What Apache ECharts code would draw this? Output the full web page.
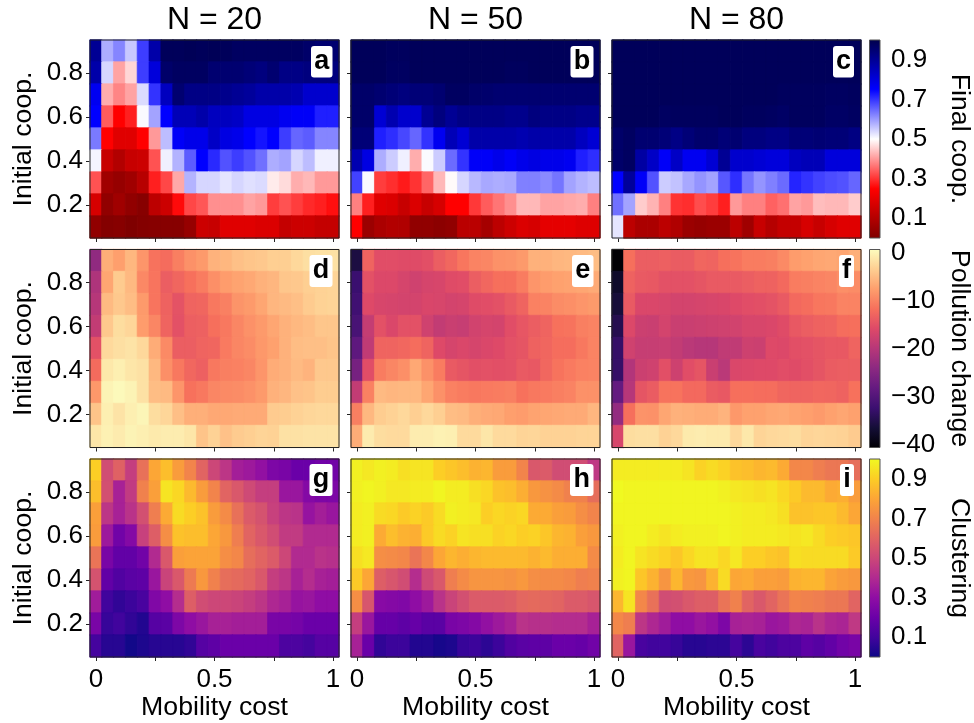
<!DOCTYPE html>
<html><head><meta charset="utf-8">
<style>html,body{margin:0;padding:0;background:#fff}#c{width:974px;height:723px}</style>
<script src="https://cdn.jsdelivr.net/npm/echarts@6/dist/echarts.min.js"></script>
</head><body><div id="c"></div>
<script>
const costs=['0','0.05','0.1','0.15','0.2','0.25','0.3','0.35','0.4','0.45','0.5','0.55','0.6','0.65','0.7','0.75','0.8','0.85','0.9','0.95','1'];
const initials=['0.1','0.2','0.3','0.4','0.5','0.6','0.7','0.8','0.9'];
const costLabels=['0','0.5','1'];
const initialLabels=['0.2','0.4','0.6','0.8'];
const titles=['N = 20','N = 50','N = 80'];
const letters=['a','b','c','d','e','f','g','h','i'];
const barNames=['Final coop.','Pollution change','Clustering'];
const barTicks=[[0.1,0.3,0.5,0.7,0.9],[-40,-30,-20,-10,0],[0.1,0.3,0.5,0.7,0.9]];
const barRanges=[[0,1],[-40.6,0.7],[0,1]];
const seismicR=['#7f0000','#ff0000','#ffffff','#0000ff','#00004c'];
const magma=['#000004','#140e36','#3b0f70','#641a80','#8c2981','#b73779','#de4968','#f7705c','#fe9f6d','#fecf92','#fcfdbf'];
const plasma=['#0d0887','#41049d','#6a00a8','#8f0da4','#b12a90','#cc4778','#e16462','#f2844b','#fca636','#fcce25','#f0f921'];

// rows run top (0.9) to bottom (0.1)
const panelA=[
[.90,.58,.62,.555,.69,.87,.98,.98,.985,.98,.985,.98,.97,.97,.97,.97,.97,.97,.96,.95,.95],
[.87,.54,.41,.46,.69,.80,.96,.97,.97,.97,.95,.95,.95,.94,.93,.95,.92,.92,.93,.93,.93],
[.77,.42,.38,.41,.535,.70,.84,.95,.92,.92,.92,.91,.90,.89,.87,.87,.87,.86,.82,.82,.82],
[.75,.34,.25,.28,.505,.59,.75,.85,.85,.87,.84,.84,.83,.79,.79,.79,.77,.76,.76,.72,.72],
[.63,.25,.19,.19,.25,.40,.565,.76,.78,.78,.83,.79,.78,.75,.73,.75,.69,.65,.66,.62,.62],
[.51,.14,.10,.14,.15,.33,.515,.575,.66,.75,.71,.67,.69,.67,.64,.58,.59,.54,.565,.515,.515],
[.33,.065,.045,.065,.11,.28,.32,.415,.575,.54,.54,.525,.54,.53,.535,.48,.465,.42,.43,.40,.40],
[.17,.035,.065,.035,.015,.12,.15,.26,.32,.335,.39,.39,.39,.41,.40,.31,.33,.31,.29,.28,.265],
[.035,.01,.015,.0,.01,.015,.015,.015,.045,.15,.14,.19,.19,.19,.18,.18,.135,.15,.15,.135,.135]];
const panelB=[
[.98,.98,.98,.975,.975,.98,.98,.98,.98,.98,.98,.98,.98,.98,.98,.98,.98,.98,.98,.98,.98],
[.98,.98,.98,.97,.97,.98,.98,.98,.98,.98,.98,.98,.98,.975,.975,.98,.98,.98,.98,.98,.98],
[.96,.96,.95,.94,.93,.94,.94,.95,.97,.97,.96,.955,.95,.95,.95,.95,.95,.95,.95,.95,.95],
[.96,.96,.81,.86,.82,.82,.90,.93,.90,.92,.92,.92,.92,.91,.91,.93,.92,.92,.92,.91,.91],
[.94,.94,.72,.705,.68,.65,.70,.77,.85,.81,.87,.87,.87,.87,.86,.87,.87,.87,.87,.84,.81],
[.86,.79,.58,.55,.515,.42,.505,.55,.645,.70,.76,.76,.78,.76,.78,.79,.78,.78,.77,.72,.705],
[.685,.505,.31,.295,.275,.30,.35,.43,.495,.54,.57,.585,.58,.585,.625,.625,.615,.635,.59,.575,.565],
[.375,.28,.19,.18,.14,.18,.14,.17,.25,.25,.305,.34,.365,.39,.43,.43,.41,.41,.415,.42,.375],
[.25,.055,.085,.10,.095,.035,.035,.025,.035,.115,.115,.075,.12,.15,.18,.17,.20,.20,.20,.185,.185]];
const panelC=[
[.98,.98,.98,.98,.98,.98,.98,.98,.98,.98,.98,.98,.98,.98,.98,.98,.98,.98,.98,.98,.98],
[.98,.98,.98,.98,.98,.98,.98,.98,.98,.98,.98,.98,.98,.98,.98,.98,.98,.98,.98,.98,.98],
[.98,.98,.98,.98,.98,.98,.98,.98,.98,.98,.98,.98,.98,.98,.975,.975,.975,.975,.97,.97,.975],
[.98,.98,.98,.98,.97,.975,.975,.975,.975,.98,.98,.975,.975,.97,.965,.975,.975,.975,.965,.965,.97],
[.96,.97,.95,.95,.94,.92,.94,.955,.955,.94,.95,.93,.93,.92,.92,.94,.94,.945,.94,.94,.925],
[.96,.97,.88,.83,.76,.83,.77,.77,.81,.90,.82,.82,.81,.80,.80,.84,.85,.85,.80,.80,.80],
[.75,.89,.76,.67,.55,.56,.585,.605,.59,.665,.705,.635,.605,.625,.645,.715,.70,.685,.675,.67,.65],
[.64,.59,.45,.425,.375,.30,.295,.325,.31,.28,.40,.375,.375,.345,.36,.41,.40,.435,.43,.43,.45],
[.525,.12,.085,.085,.12,.095,.055,.045,.055,.055,.12,.065,.14,.105,.135,.135,.17,.14,.17,.19,.19]];
const panelD=[
[-23.7,-6.3,-7.6,-5.5,-8.4,-11.5,-12.1,-10.4,-8.8,-8,-5.9,-5.5,-4.7,-4.3,-4,-3.4,-3.4,-2.6,-2,-1.8,-1.8],
[-20.8,-7,-3.8,-5.3,-9.6,-11.3,-13.6,-12.8,-11.7,-10.6,-9,-7.8,-7.2,-6.8,-6,-5.6,-4.2,-4,-3.4,-3.2,-3],
[-20,-5.2,-4,-5,-8,-11.3,-13.2,-14.8,-13,-12.8,-11,-10.3,-8.5,-8,-7,-5.6,-5.2,-4.8,-3.8,-3.2,-3],
[-18.8,-4,-2.2,-2.8,-7.8,-9.8,-13,-15,-13.5,-13.3,-11.8,-11,-9.8,-8.8,-8,-7,-6,-5.4,-5,-4.2,-4.2],
[-15,-2.5,-2,-1.6,-2.6,-6.4,-9.4,-13.6,-13.6,-13,-12.8,-10.8,-9.8,-9.2,-8.2,-7.4,-6,-5,-4.8,-4.8,-4.4],
[-12.2,-1.2,-.6,-1.4,-1.8,-5.4,-9,-11,-12.6,-13.4,-11,-10.4,-10.2,-9.8,-8.4,-6.4,-6,-5.2,-5.8,-4,-4],
[-8.2,-.2,.3,-.2,-1.8,-5,-5.2,-8.4,-11.6,-11,-9.8,-9.4,-9.2,-8.8,-8,-6,-5.6,-4.6,-4.4,-3.6,-3.6],
[-4.4,-.6,-1.6,-.6,0,-2.2,-2.8,-4.8,-6.2,-6.2,-6.8,-6.8,-6.6,-6.6,-6.6,-3.8,-3.6,-3.2,-2.8,-2.6,-2.6],
[-1.4,-.4,-.9,-.2,-.6,-1,-.8,-.8,-1.4,-4.4,-3.2,-4.6,-3.8,-3.4,-3,-3.2,-1.8,-1.8,-1.6,-1.6,-1.6]];
const panelE=[
[-35.6,-13,-15.4,-15.4,-15.6,-15.6,-15.2,-13.6,-12.6,-11.2,-10,-9.8,-8.8,-8.6,-8,-6,-6,-5.6,-5.4,-5.2,-5],
[-32.4,-15,-16,-16,-16.8,-17.4,-16.8,-16.6,-15.6,-15.4,-13.6,-12.6,-11.8,-11.8,-10.6,-8.4,-7.8,-7.4,-7.2,-7,-6.6],
[-31.8,-15.8,-16.6,-16.8,-17,-17,-16.4,-16.6,-17,-16.8,-15.6,-15.4,-15,-14,-13,-10.2,-10,-9.2,-9,-8.4,-8],
[-31,-18.6,-15,-16.2,-15,-15,-17.4,-18.8,-18,-18.4,-17.2,-16.8,-17,-15.4,-14.4,-13.6,-13,-11.6,-11.4,-10.4,-10],
[-28.8,-19,-13,-13,-12.6,-12,-13,-15.8,-16.8,-16.2,-16.8,-16.2,-15.8,-15,-14.6,-13.2,-12.8,-12,-12,-11,-10],
[-26.4,-15.4,-10.6,-9.8,-9,-6.8,-8.8,-10.6,-14,-14.6,-15.2,-15,-15.2,-15,-14,-14.2,-12.6,-11.4,-10.8,-10.2,-10],
[-18.8,-10.2,-5.2,-5.6,-5.4,-5.4,-7,-8.8,-10.2,-10.6,-11,-10.8,-10.6,-10.4,-11.6,-11,-10.8,-10.4,-10,-8.8,-8.8],
[-10.4,-5.4,-3.6,-3.2,-2.6,-3.4,-2.6,-3.4,-5,-5.2,-6.2,-6.6,-6.8,-7.6,-7.8,-7.2,-7,-6.8,-6.6,-6.6,-5.6],
[-6.4,-.9,-2.2,-2.4,-2.4,-.8,-.8,-.4,-.6,-2.4,-2.4,-1.4,-2.4,-2.4,-3,-2.8,-3.2,-3.2,-3.2,-3,-3]];
const panelF=[
[-40.5,-11.8,-13.6,-13.6,-13.4,-13.8,-13.8,-12.8,-13,-11.8,-11.4,-10.6,-10.6,-10.4,-9.4,-7.8,-7.4,-7,-6.8,-7,-6.2],
[-37.4,-13.2,-14,-14.2,-15,-15,-15,-14.6,-14,-14,-14,-13.6,-13.2,-13.2,-12.4,-10.6,-10.4,-10,-9.8,-9,-9.2],
[-36.2,-14,-16.2,-16.2,-16.6,-17,-17,-16.8,-16.6,-16.4,-15.8,-15.4,-15.2,-14.8,-14,-12.4,-12,-11.2,-11,-10,-10],
[-34.6,-16,-17.8,-18,-17,-18,-18,-17.8,-17.6,-17.4,-17.2,-16.6,-16.6,-16.2,-15.6,-14.2,-13.6,-13.2,-13,-12,-11.8],
[-33,-17.4,-18.4,-18.4,-18.2,-18.8,-19.6,-20,-20,-19,-19,-17.6,-17.8,-15.8,-16,-15.2,-15,-14.6,-14.2,-14.2,-13],
[-33,-20.4,-17.8,-17.4,-15.2,-17.6,-15.4,-14.6,-18,-19.6,-16.2,-16,-15.8,-15.8,-15.4,-15.6,-15.2,-14.6,-13.8,-13.6,-13.6],
[-28.2,-20,-14.6,-13.8,-11.4,-11.4,-12.4,-12.4,-13.8,-14.2,-11.8,-11.8,-12,-12,-12.8,-13,-13,-12.6,-12.8,-13.2,-11.6],
[-23.4,-11.8,-8.6,-8.8,-7,-6,-6.2,-6.4,-6.4,-5.8,-8.2,-7.4,-7.4,-7,-6.8,-7.2,-7.6,-8,-7.4,-7,-7.4],
[-16.6,-2.2,-2,-2,-3.2,-2.6,-1,-.8,-1,-1,-2.6,-1.2,-3,-2.6,-2.4,-2.2,-3,-2.8,-3,-3.2,-3.8]];
const panelG=[
[.90,.52,.59,.47,.64,.80,.86,.77,.70,.60,.50,.44,.36,.34,.31,.25,.24,.20,.20,.22,.22],
[.86,.53,.37,.46,.69,.78,.95,.92,.85,.77,.70,.60,.56,.51,.47,.47,.33,.33,.27,.25,.25],
[.78,.44,.37,.43,.53,.68,.81,.93,.90,.87,.77,.72,.64,.57,.54,.48,.44,.43,.32,.36,.33],
[.77,.34,.22,.27,.48,.58,.73,.87,.86,.86,.80,.76,.68,.60,.56,.52,.46,.46,.40,.40,.40],
[.65,.24,.18,.18,.22,.40,.56,.78,.79,.79,.79,.73,.71,.63,.60,.57,.50,.40,.40,.43,.42],
[.54,.18,.14,.16,.17,.33,.49,.56,.67,.76,.69,.63,.62,.60,.56,.47,.44,.37,.41,.37,.36],
[.35,.10,.07,.09,.12,.26,.30,.41,.58,.52,.50,.50,.49,.47,.44,.39,.37,.32,.33,.30,.30],
[.24,.08,.10,.07,.04,.15,.16,.25,.30,.33,.37,.37,.36,.36,.36,.24,.24,.23,.20,.20,.20],
[.11,.05,.05,.01,.03,.05,.05,.05,.07,.15,.17,.20,.20,.20,.20,.20,.13,.13,.11,.15,.15]];
const panelH=[
[.98,.96,.98,.97,.94,.95,.95,.90,.88,.86,.83,.84,.77,.77,.70,.56,.57,.52,.52,.52,.45],
[.98,.99,.98,.96,.96,.97,.97,.99,.97,.97,.94,.92,.87,.86,.82,.76,.74,.72,.69,.69,.63],
[.97,.98,.93,.92,.89,.91,.89,.93,.98,.97,.96,.90,.92,.91,.92,.81,.81,.78,.77,.73,.70],
[.97,.98,.81,.86,.83,.82,.89,.93,.91,.95,.94,.94,.91,.92,.90,.91,.88,.84,.83,.78,.76],
[.94,.96,.73,.72,.71,.65,.71,.80,.84,.82,.84,.85,.85,.85,.85,.83,.85,.82,.82,.82,.72],
[.89,.80,.58,.55,.52,.41,.51,.56,.68,.72,.75,.75,.75,.74,.76,.73,.72,.72,.71,.68,.69],
[.73,.55,.28,.27,.26,.30,.34,.43,.49,.53,.57,.57,.57,.58,.61,.62,.61,.60,.57,.57,.55],
[.47,.33,.19,.19,.17,.19,.16,.16,.24,.25,.27,.31,.34,.37,.43,.42,.42,.41,.41,.41,.37],
[.37,.20,.07,.09,.09,.04,.04,.02,.03,.08,.09,.06,.09,.14,.16,.17,.17,.20,.20,.19,.22]];
const panelI=[
[.97,.97,.97,.97,.97,.97,.95,.91,.93,.91,.87,.86,.84,.85,.81,.71,.71,.68,.66,.66,.63],
[1,.99,.99,.99,.99,.99,.99,.99,.99,.98,.96,.95,.94,.95,.92,.89,.85,.85,.81,.82,.77],
[.99,.99,.99,.99,.99,.99,.99,.99,.99,.99,.98,.97,.97,.96,.94,.87,.87,.88,.88,.85,.80],
[.98,.99,.99,.97,.95,.97,.98,.98,.98,.99,.98,.97,.97,.97,.96,.95,.96,.93,.90,.89,.88],
[.97,.99,.95,.93,.91,.88,.92,.95,.95,.92,.96,.90,.90,.88,.87,.94,.93,.93,.93,.93,.89],
[.98,.99,.88,.83,.75,.84,.76,.75,.83,.93,.80,.81,.78,.78,.77,.83,.84,.84,.79,.77,.76],
[.84,.95,.71,.64,.52,.53,.56,.58,.58,.65,.69,.60,.56,.60,.65,.70,.69,.68,.66,.66,.60],
[.71,.68,.44,.39,.35,.30,.30,.33,.31,.25,.37,.38,.37,.33,.34,.39,.38,.43,.39,.38,.45],
[.60,.33,.12,.10,.10,.08,.05,.05,.06,.06,.11,.06,.12,.10,.13,.13,.17,.15,.18,.22,.24]];
const panels=[panelA,panelB,panelC,panelD,panelE,panelF,panelG,panelH,panelI];

const colLeft=[90,351,612], panelW=249, rowTop=[40,249.5,459], panelH_px=198;
const barLeft=869.5, barW=10.5;
const FONT='"Liberation Sans",Arial,sans-serif', FS=26, NS=26.7, INK='#222';
const badgeBox=[[311,46,21.5,31.5],[570.5,46,23,31.5],[833,46,21,31.5],[309.5,255,23,32],[572,255,21.5,32],[839,255,15,32],[309.5,464,23,32],[570,464,23.5,32],[840,464,14,32]];
const maps=[seismicR,magma,plasma];

const grid=[],xAxis=[],yAxis=[],series=[],graphic=[],visualMap=[];
panels.forEach((rows,p)=>{
  const c=p%3,r=Math.floor(p/3),L=colLeft[c],T=rowTop[r];
  grid.push({left:L,top:T,width:panelW,height:panelH_px,outerBoundsMode:'none'});
  xAxis.push({type:'category',gridIndex:p,data:costs,boundaryGap:true,
    name:r===2?'Mobility cost':'',nameLocation:'middle',nameGap:37,nameMoveOverlap:false,nameTextStyle:{fontFamily:FONT,fontSize:NS,color:'#000'},
    axisLine:{show:false},
    axisTick:{show:true,alignWithLabel:true,length:4,interval:i=>i%5===0,lineStyle:{color:INK,width:1}},
    axisLabel:{show:r===2,interval:i=>i%10===0,formatter:v=>costLabels.includes(v)?v:'',fontFamily:FONT,fontSize:FS,color:'#000',margin:10},
    splitLine:{show:false}});
  yAxis.push({type:'category',gridIndex:p,data:initials,boundaryGap:true,
    name:c===0?'Initial coop.':'',nameLocation:'middle',nameGap:53,nameRotate:90,nameMoveOverlap:false,nameTextStyle:{fontFamily:FONT,fontSize:NS,color:'#000'},
    axisLine:{show:false},
    axisTick:{show:true,alignWithLabel:true,length:4,interval:i=>i%2===1,lineStyle:{color:INK,width:1}},
    axisLabel:{show:c===0,interval:i=>i%2===1,formatter:v=>initialLabels.includes(v)?v:'',fontFamily:FONT,fontSize:FS,color:'#000',margin:7},
    splitLine:{show:false}});
  const d=[],rg=barRanges[r];
  rows.forEach((row,ri)=>row.forEach((v,ci)=>d.push({value:[ci,8-ri,v],itemStyle:{borderWidth:0.7,borderColor:echarts.color.lerp((v-rg[0])/(rg[1]-rg[0]),maps[r])}})));
  series.push({type:'heatmap',xAxisIndex:p,yAxisIndex:p,data:d,progressive:0,animation:false,emphasis:{disabled:true}});
  graphic.push({type:'rect',z:50,silent:true,shape:{x:L,y:T,width:panelW,height:panelH_px},style:{fill:'none',stroke:INK,lineWidth:1}});
  const b=badgeBox[p];
  graphic.push({type:'rect',z:51,silent:true,shape:{x:b[0],y:b[1],width:b[2],height:b[3],r:3},style:{fill:'#fff'}});
  graphic.push({type:'text',z:52,silent:true,style:{x:b[0]+b[2]/2,y:b[1]+b[3]/2,text:letters[p],fontFamily:FONT,fontWeight:'bold',fontSize:27,fill:'#000',align:'center',verticalAlign:'middle'}});
});
maps.forEach((cm,r)=>{
  visualMap.push({show:false,type:'continuous',seriesIndex:[3*r,3*r+1,3*r+2],dimension:2,min:barRanges[r][0],max:barRanges[r][1],inRange:{color:cm}});
  const gi=9+r,T=rowTop[r];
  grid.push({left:barLeft,top:T,width:barW,height:panelH_px,outerBoundsMode:'none'});
  xAxis.push({type:'value',gridIndex:gi,show:false,min:0,max:1});
  yAxis.push({type:'value',gridIndex:gi,position:'right',min:barRanges[r][0],max:barRanges[r][1],
    name:barNames[r],nameLocation:'middle',nameRotate:-90,nameGap:66,nameMoveOverlap:false,nameTextStyle:{fontFamily:FONT,fontSize:NS,color:'#000'},
    axisLine:{show:false},splitLine:{show:false},
    axisTick:{show:true,length:4,customValues:barTicks[r],lineStyle:{color:INK,width:1}},
    axisLabel:{show:true,customValues:barTicks[r],formatter:v=>String(v).replace('-','\u2212'),fontFamily:FONT,fontSize:FS,color:'#000',margin:11}});
  series.push({type:'line',xAxisIndex:gi,yAxisIndex:gi,data:[],silent:true});
  graphic.push({type:'rect',z:50,silent:true,shape:{x:barLeft,y:T,width:barW,height:panelH_px},
    style:{stroke:'#555',lineWidth:1,fill:new echarts.graphic.LinearGradient(0,1,0,0,cm.map((color,i)=>({offset:i/(cm.length-1),color})))}});
});
titles.forEach((t,c)=>graphic.push({type:'text',z:52,silent:true,style:{x:colLeft[c]+panelW/2,y:20,text:t,fontFamily:FONT,fontSize:32,fill:'#000',align:'center',verticalAlign:'middle'}}));

const chart=echarts.init(document.getElementById('c'),null,{renderer:'canvas',width:974,height:723});
chart.setOption({animation:false,backgroundColor:'#fff',grid,xAxis,yAxis,series,visualMap,graphic,tooltip:{show:false}});
</script></body></html>
